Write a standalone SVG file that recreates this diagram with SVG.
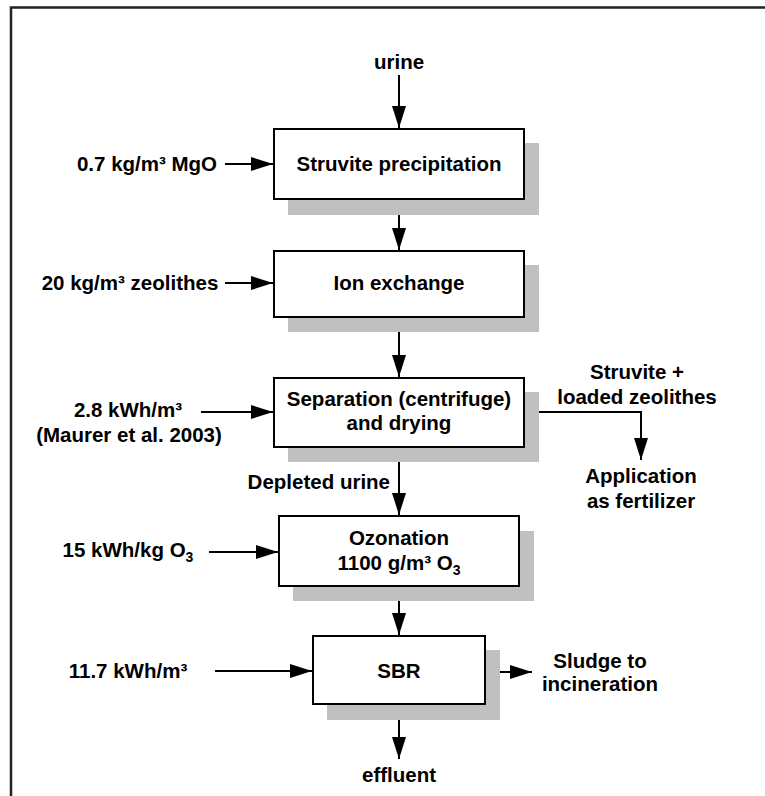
<svg xmlns="http://www.w3.org/2000/svg" width="765" height="796" viewBox="0 0 765 796">
  <style>
    text { font-family: "Liberation Sans", Arial, sans-serif; font-weight: bold; font-size: 20.5px; fill: #000; }
    .c { text-anchor: middle; }
    .e { text-anchor: end; }
    .box { fill: #fff; stroke: #000; stroke-width: 2; }
    .shadow { fill: #c0c0c0; stroke: none; }
    .link { fill: none; stroke: #000; stroke-width: 2; marker-end: url(#arrow); }
    .sub { font-size: 14px; }
  </style>
  <defs>
    <marker id="arrow" markerUnits="userSpaceOnUse" markerWidth="22" markerHeight="14" refX="22" refY="7" orient="auto">
      <path d="M0,0 L22,7 L0,14 Z" fill="#000"/>
    </marker>
  </defs>

  <rect width="765" height="796" fill="#fff"/>
  <!-- frame -->
  <path d="M11,800 V7.5 H770" fill="none" stroke="#222" stroke-width="2.5"/>

  <!-- connectors -->
  <g id="connectors">
    <path class="link" d="M399,75 V128"/>
    <path class="link" d="M225,164 H273"/>
    <path class="link" d="M399,199 V250"/>
    <path class="link" d="M225,283 H273"/>
    <path class="link" d="M399,317 V377"/>
    <path class="link" d="M201,412 H273"/>
    <path class="link" d="M524,412 H641 V460"/>
    <path class="link" d="M399,447 V515"/>
    <path class="link" d="M209,552 H278"/>
    <path class="link" d="M399,586 V635"/>
    <path class="link" d="M215,671 H312"/>
    <path class="link" d="M485,672 H532"/>
    <path class="link" d="M399,704 V759"/>
  </g>

  <!-- process units -->
  <g id="struvite-precipitation">
    <rect class="shadow" x="288" y="143" width="251" height="72"/>
    <rect class="box" x="274" y="129" width="250" height="70"/>
    <text class="c" x="399" y="171">Struvite precipitation</text>
  </g>
  <g id="ion-exchange">
    <rect class="shadow" x="288" y="265" width="251" height="67"/>
    <rect class="box" x="274" y="251" width="250" height="66"/>
    <text class="c" x="399" y="290">Ion exchange</text>
  </g>
  <g id="separation">
    <rect class="shadow" x="288" y="392" width="251" height="70"/>
    <rect class="box" x="274" y="378" width="250" height="69"/>
    <text class="c" x="399" y="406">Separation (centrifuge)</text>
    <text class="c" x="399" y="430">and drying</text>
  </g>
  <g id="ozonation">
    <rect class="shadow" x="293" y="531" width="241" height="70"/>
    <rect class="box" x="279" y="516" width="240" height="70"/>
    <text class="c" x="399" y="545">Ozonation</text>
    <text class="c" x="399" y="570">1100 g/m³ O<tspan class="sub" dy="5">3</tspan></text>
  </g>
  <g id="sbr">
    <rect class="shadow" x="327" y="650" width="173" height="70"/>
    <rect class="box" x="313" y="636" width="172" height="68"/>
    <text class="c" x="399" y="678">SBR</text>
  </g>

  <!-- inputs and outputs -->
  <g id="urine"><text class="c" x="399" y="69">urine</text></g>
  <g id="mgo"><text class="c" x="147" y="171">0.7 kg/m³ MgO</text></g>
  <g id="zeolithes"><text class="c" x="130" y="290">20 kg/m³ zeolithes</text></g>
  <g id="separation-energy">
    <text class="c" x="128" y="417">2.8 kWh/m³</text>
    <text class="c" x="129" y="442">(Maurer et al. 2003)</text>
  </g>
  <g id="solids">
    <text class="c" x="637" y="379">Struvite +</text>
    <text class="c" x="637" y="404">loaded zeolithes</text>
  </g>
  <g id="fertilizer">
    <text class="c" x="641" y="483">Application</text>
    <text class="c" x="641" y="508">as fertilizer</text>
  </g>
  <g id="depleted-urine"><text class="e" x="390" y="489">Depleted urine</text></g>
  <g id="ozone-energy"><text class="c" x="128" y="557">15 kWh/kg O<tspan class="sub" dy="5">3</tspan></text></g>
  <g id="sbr-energy"><text class="c" x="128" y="678">11.7 kWh/m³</text></g>
  <g id="sludge">
    <text class="c" x="600" y="668">Sludge to</text>
    <text class="c" x="600" y="691">incineration</text>
  </g>
  <g id="effluent"><text class="c" x="399" y="782">effluent</text></g>
</svg>
